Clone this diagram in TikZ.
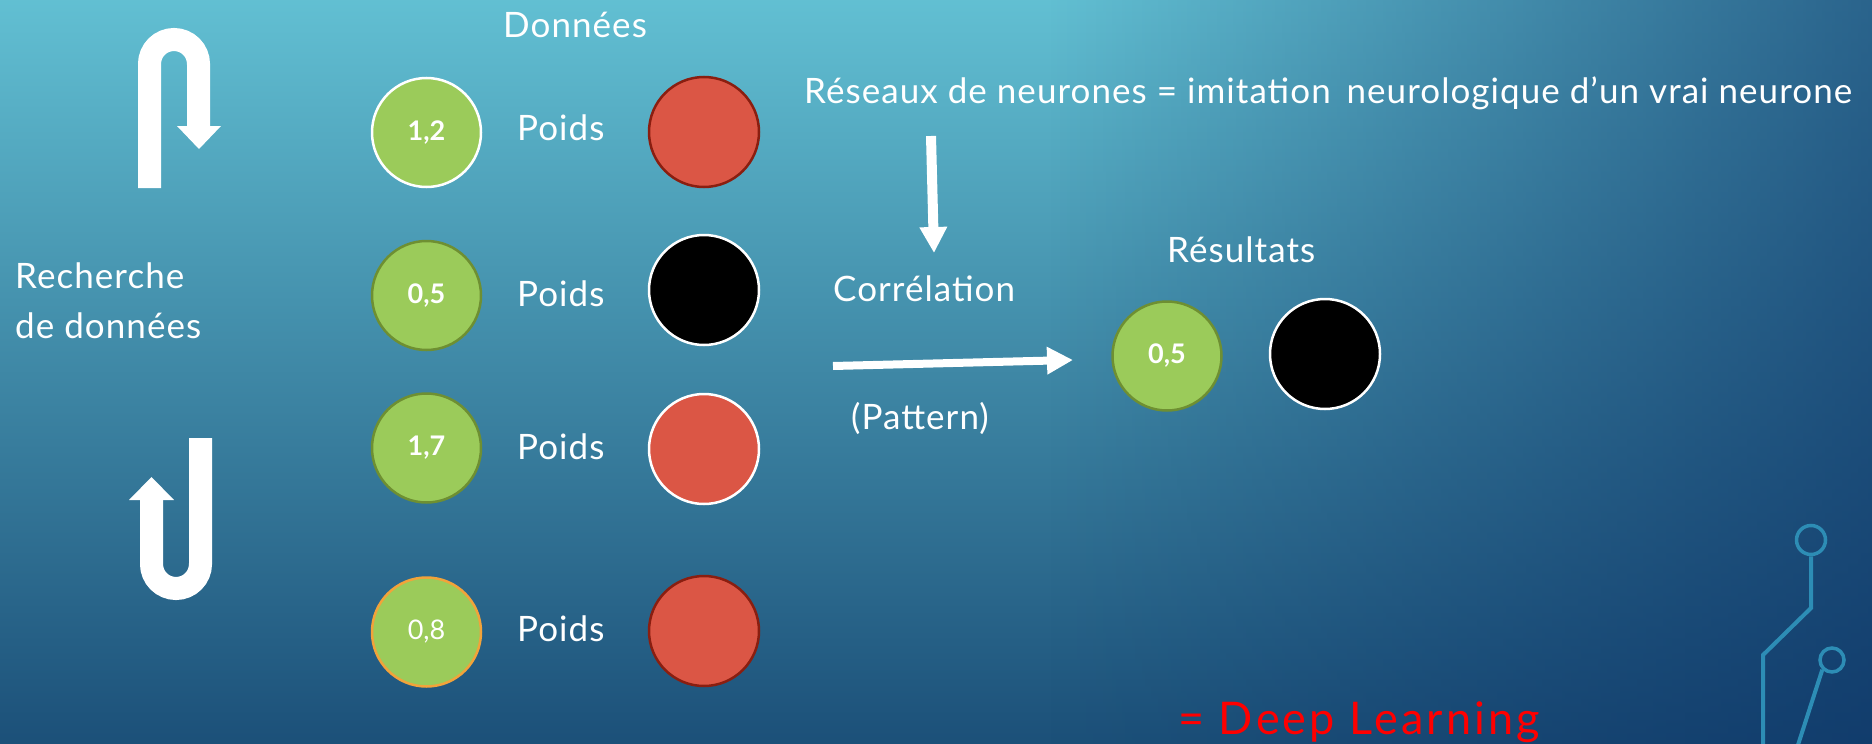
\documentclass[tikz,border=0pt]{standalone}
\usepackage{fontspec}
\setmainfont{Lato}
\usetikzlibrary{arrows.meta,fadings}
\definecolor{bgtop}{HTML}{62C0D3}
\definecolor{bgmid}{HTML}{3B9DBB}
\definecolor{bgbot}{HTML}{1B4F78}
\definecolor{bgdark}{HTML}{0C3266}
\definecolor{leaf}{HTML}{9BCB5A}
\definecolor{leafedge}{HTML}{6E8F32}
\definecolor{tomato}{HTML}{DB5645}
\definecolor{tomatoedge}{HTML}{8A1E10}
\definecolor{amber}{HTML}{F2A33A}
\definecolor{circuit}{HTML}{2D8DB5}
\definecolor{deepred}{HTML}{FF0000}
\tikzfading[name=rfade, left color=transparent!100, right color=transparent!0]
\begin{document}
\begin{tikzpicture}[x=1pt,y=-1pt,
  txt/.style={text=white, font=\fontsize{35}{42}\selectfont\addfontfeatures{LetterSpace=3}, inner sep=0pt, anchor=base west},
  valg/.style={circle, fill=leaf, minimum size=109pt, inner sep=0pt, line width=2.5pt, text=white, font=\fontsize{27}{30}\selectfont\bfseries},
  ball/.style={circle, minimum size=110pt, inner sep=0pt, line width=2.5pt},
  uarrow/.style={draw=white, line width=23pt},
  bigarrow/.style={draw=white, -{Triangle[width=26pt,length=26pt]}},
  circ/.style={circle, draw=circuit, line width=3.5pt, inner sep=0pt},
  circline/.style={draw=circuit, line width=4pt}
]
\useasboundingbox (0,0) rectangle (1872,744);
\shade[top color=bgtop, middle color=bgmid, bottom color=bgbot] (-5,-5) rectangle (1877,749);
\fill[bgdark, fill opacity=0.65, path fading=rfade] (1050,-5) rectangle (1877,749);

% U-turn arrows
\draw[uarrow] (149.5,188) -- (149.5,64) arc[start angle=180, end angle=360, radius=24.5] -- (198.5,126);
\fill[white] (177,126) -- (221,126) -- (199,149) -- cycle;
\draw[uarrow] (200.5,438) -- (200.5,564) arc[start angle=0, end angle=180, radius=24.5] -- (151.5,500);
\fill[white] (129,500) -- (174,500) -- (151.5,477) -- cycle;

% left text
\node[txt] (rech1) at (15,288) {Recherche};
\node[txt] (rech2) at (15,338) {de données};
\node[txt] (donnees) at (503,37) {Données};

% data circles
\node[valg, draw=white] (d1) at (426.5,132.5) {1,2};
\node[valg, draw=leafedge] (d2) at (426.5,295.5) {0,5};
\node[valg, draw=leafedge] (d3) at (426.5,448) {1,7};
\node[valg, draw=amber, font=\fontsize{27}{30}\selectfont] (d4) at (426.5,632) {0,8};

\node[txt] (p1) at (517,140) {Poids};
\node[txt] (p2) at (517,306) {Poids};
\node[txt] (p3) at (517,459) {Poids};
\node[txt] (p4) at (517,641) {Poids};

\node[ball, fill=tomato, draw=tomatoedge] (w1) at (704,132) {};
\node[ball, fill=black, draw=white] (w2) at (704,290) {};
\node[ball, fill=tomato, draw=white] (w3) at (704,449) {};
\node[ball, fill=tomato, draw=tomatoedge] (w4) at (704,631) {};

% top statement
\node[txt] (reseaux) at (804,103) {Réseaux de neurones = imitation\, neurologique d’un vrai neurone};
\coordinate (vtop) at (931,136);
\coordinate (vtip) at (934,253);
\draw[bigarrow, line width=10pt] (vtop) -- (vtip);

\node[txt] (corr) at (833,301) {Corrélation};
\coordinate (hstart) at (833,366);
\coordinate (hend) at (1073,360);
\draw[bigarrow, line width=8pt] (hstart) -- (hend);
\node[txt] (pattern) at (851,429) {(Pattern)};

% results
\node[txt] (res) at (1167,262) {Résultats};
\node[valg, draw=leafedge] (r1) at (1167,356) {0,5};
\node[ball, fill=black, draw=white] (r2) at (1325,354) {};

\node[text=deepred, font=\fontsize{45}{52}\selectfont\addfontfeatures{LetterSpace=7}, inner sep=0pt, anchor=base west] (deep) at (1178,734) {= Deep Learning};

% circuit decoration
\node[circ, minimum size=29pt] (c1) at (1811,540) {};
\node[circ, minimum size=24pt] (c2) at (1832,660) {};
\coordinate (c1a) at (1811,608);
\coordinate (c1b) at (1763,655);
\coordinate (c1c) at (1763,748);
\coordinate (c2a) at (1797,748);
\draw[circline] (c1.south) -- (c1a) -- (c1b) -- (c1c);
\draw[circline] (c2.south west) -- (c2a);
\end{tikzpicture}
\end{document}
